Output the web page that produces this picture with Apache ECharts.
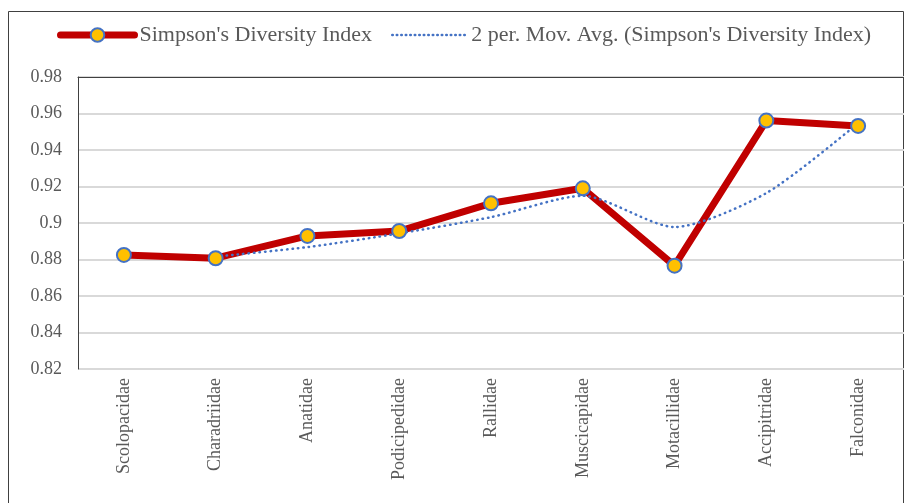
<!DOCTYPE html>
<html>
<head>
<meta charset="utf-8">
<script src="https://cdn.jsdelivr.net/npm/echarts@6/dist/echarts.min.js"></script>
<style>
html,body{margin:0;padding:0;background:#fff;}
#chart{width:904px;height:503px;}
</style>
</head>
<body>
<div id="chart"></div>
<script>
const categories = ['Scolopacidae','Charadriidae','Anatidae','Podicipedidae','Rallidae','Muscicapidae','Motacillidae','Accipitridae','Falconidae'];
const simpsonValues = [0.8825, 0.8807, 0.8929, 0.8956, 0.9108, 0.9190, 0.8766, 0.9561, 0.9532];
const movingAvgValues = [null, 0.8816, 0.8868, 0.8943, 0.9032, 0.9149, 0.8978, 0.9164, 0.9547];
const seriesNames = ["Simpson's Diversity Index", "2 per. Mov. Avg. (Simpson's Diversity Index)"];

const chart = echarts.init(document.getElementById('chart'));
const serif = '"Liberation Serif", "Times New Roman", serif';
chart.setOption({
  animation: false,
  backgroundColor: '#ffffff',
  textStyle: { fontFamily: serif },
  graphic: [{
    type: 'rect',
    shape: { x: 8.5, y: 11.5, width: 895, height: 1000 },
    style: { fill: 'none', stroke: '#404040', lineWidth: 1 },
    silent: true
  }],
  legend: {
    left: 52,
    top: 19,
    itemWidth: 74,
    itemHeight: 17,
    itemGap: 19,
    textStyle: { fontFamily: serif, fontSize: 22, color: '#595959' },
    data: [{
      name: seriesNames[0],
      lineStyle: { width: 7, color: '#C00000' }
    }, {
      name: seriesNames[1],
      itemStyle: { color: 'rgba(0,0,0,0)', borderWidth: 0, opacity: 0 },
      lineStyle: { width: 2.5, color: '#4472C4', type: [0.5, 4], cap: 'round' }
    }]
  },
  grid: { left: 78, right: 0, top: 77, bottom: 134, containLabel: false },
  xAxis: [{
    type: 'category',
    data: categories,
    boundaryGap: true,
    axisLine: { show: false },
    axisTick: { show: false },
    axisLabel: {
      rotate: 90,
      margin: 9,
      fontFamily: serif,
      fontSize: 18,
      color: '#595959',
      interval: 0
    }
  }, {
    type: 'category',
    data: categories,
    position: 'top',
    axisLine: { show: true, lineStyle: { color: '#404040', width: 1 } },
    axisTick: { show: false },
    axisLabel: { show: false }
  }],
  yAxis: {
    type: 'value',
    min: 0.82,
    max: 0.98,
    interval: 0.02,
    axisLine: { show: true, lineStyle: { color: '#404040', width: 1 } },
    axisTick: { show: false },
    splitLine: { show: true, lineStyle: { color: '#D9D9D9', width: 2 } },
    axisLabel: {
      margin: 16,
      fontFamily: serif,
      fontSize: 18,
      color: '#595959',
      formatter: v => String(+v.toFixed(2))
    }
  },
  series: [{
    name: seriesNames[0],
    type: 'line',
    data: simpsonValues,
    lineStyle: { color: '#C00000', width: 7, cap: 'round', join: 'round' },
    itemStyle: { color: '#FFC000', borderColor: '#4472C4', borderWidth: 2 },
    symbol: 'circle',
    symbolSize: 14,
    showSymbol: true
  }, {
    name: seriesNames[1],
    type: 'line',
    data: movingAvgValues,
    smooth: 0.25,
    showSymbol: false,
    symbol: 'none',
    connectNulls: false,
    itemStyle: { color: '#4472C4' },
    lineStyle: { color: '#4472C4', width: 2.5, type: [0.5, 5], cap: 'round' }
  }]
});
</script>
</body>
</html>
